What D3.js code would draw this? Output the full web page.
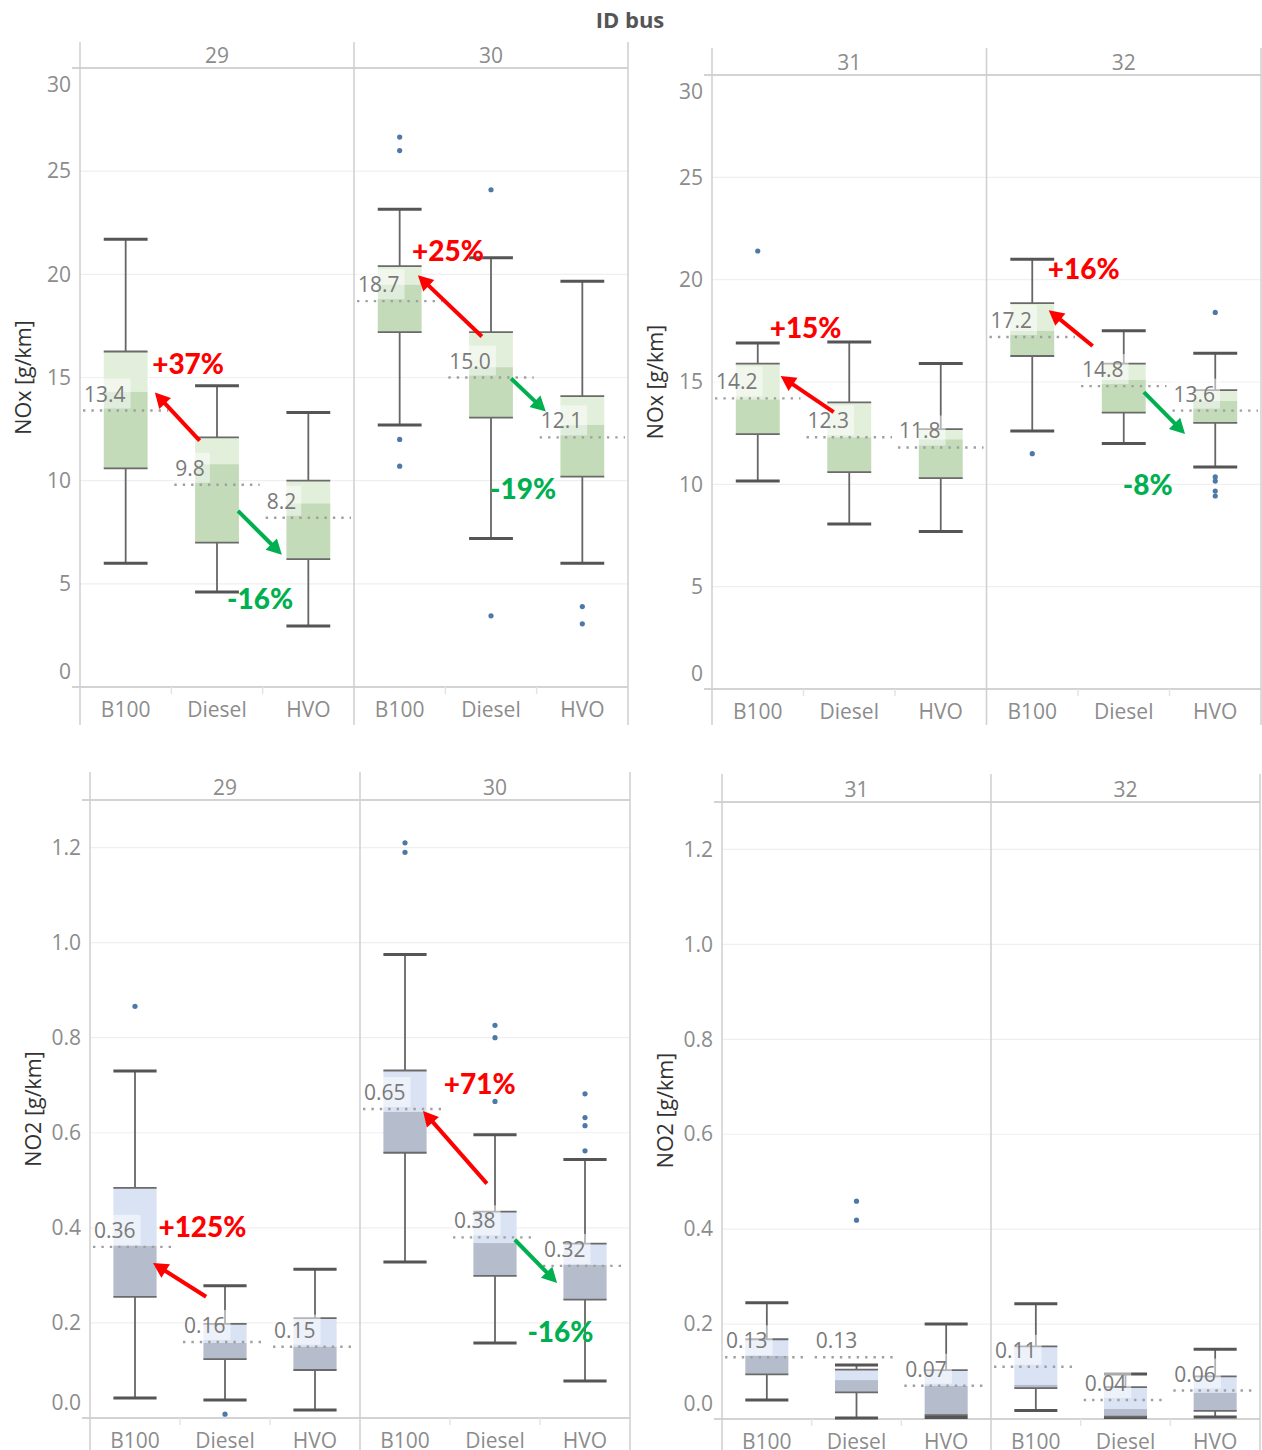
<!DOCTYPE html>
<html>
<head>
<meta charset="utf-8">
<script src="https://cdn.jsdelivr.net/npm/d3@7"></script>
<style>
  html, body { margin: 0; padding: 0; background: #fff; }
  svg { display: block; font-family: "Open Sans", sans-serif; }
</style>
</head>
<body>
<svg id="chart" width="1262" height="1450"></svg>
<script>
// ----------------------------------------------------------
// Data, rows = bus 29,30,31,32 ; cols = B100, Diesel, HVO
// ----------------------------------------------------------
const fuels = ["B100", "Diesel", "HVO"];
const buses = ["29", "30", "31", "32"];
const noxTicks = [0, 5, 10, 15, 20, 25, 30];
const no2Ticks = [0, 0.2, 0.4, 0.6, 0.8, 1.0, 1.2];

// NOx [g/km]
const noxWhiskerLow  = [[6.0, 4.6, 2.96], [12.7, 7.2, 6.0], [10.16, 8.06, 7.7], [12.6, 12.0, 10.85]];
const noxQ1          = [[10.6, 7.0, 6.2], [17.2, 13.06, 10.2], [12.45, 10.6, 10.3], [16.27, 13.5, 13.0]];
const noxMedian      = [[14.3, 10.8, 8.9], [19.5, 15.5, 12.7], [14.15, 12.3, 12.2], [17.5, 15.1, 14.07]];
const noxQ3          = [[16.26, 12.1, 10.0], [20.4, 17.2, 14.1], [15.9, 14.0, 12.7], [18.85, 15.9, 14.6]];
const noxWhiskerHigh = [[21.7, 14.6, 13.3], [23.15, 20.8, 19.66], [16.9, 16.95, 15.9], [21.0, 17.5, 16.4]];
const noxMean        = [[13.4, 9.8, 8.2], [18.7, 15.0, 12.1], [14.2, 12.3, 11.8], [17.2, 14.8, 13.6]];
const noxOutliers    = [
  [[], [], []],
  [[26.65, 26.0, 12.0, 10.7], [24.1, 3.45], [3.9, 3.06]],
  [[21.4], [], []],
  [[11.5], [], [18.4, 10.36, 10.16, 9.67, 9.43]]
];

// NO2 [g/km]
const no2WhiskerLow  = [[0.042, 0.038, 0.017], [0.328, 0.158, 0.078], [0.04, 0.002, 0.003], [0.018, 0.003, 0.004]];
const no2Q1          = [[0.255, 0.124, 0.101], [0.558, 0.299, 0.249], [0.094, 0.056, 0.008], [0.065, 0.005, 0.017]];
const no2Median      = [[0.362, 0.158, 0.15], [0.644, 0.368, 0.322], [0.133, 0.082, 0.07], [0.072, 0.021, 0.055]];
const no2Q3          = [[0.484, 0.198, 0.21], [0.731, 0.434, 0.367], [0.168, 0.104, 0.103], [0.153, 0.067, 0.09]];
const no2WhiskerHigh = [[0.73, 0.278, 0.313], [0.975, 0.596, 0.544], [0.245, 0.114, 0.2], [0.243, 0.095, 0.147]];
const no2Mean        = [[0.36, 0.16, 0.15], [0.65, 0.38, 0.32], [0.13, 0.13, 0.07], [0.11, 0.04, 0.06]];
const no2Outliers    = [
  [[0.866], [0.008], []],
  [[1.21, 1.19], [0.826, 0.80, 0.666], [0.682, 0.632, 0.615, 0.562]],
  [[], [0.459, 0.419], []],
  [[], [], []]
];

// change annotations: arrow from one box to another, in data terms
// [fuel, offset from band centre as share of band width, value]
const annotations = [
  { pol: "nox", bus: "29", text: "+37%", up: true,  from: ["Diesel", -0.19, 11.94], to: ["B100", 0.32, 14.27], label: ["B100", 0.29, 15.7] },
  { pol: "nox", bus: "29", text: "-16%", up: false, from: ["Diesel", 0.23, 8.54],   to: ["HVO", -0.29, 6.41],  label: ["Diesel", 0.11, 4.32] },
  { pol: "nox", bus: "30", text: "+25%", up: true,  from: ["Diesel", -0.10, 16.99], to: ["B100", 0.20, 19.95], label: ["B100", 0.135, 21.2] },
  { pol: "nox", bus: "30", text: "-19%", up: false, from: ["Diesel", 0.22, 14.95],  to: ["HVO", -0.40, 13.35], label: ["Diesel", -0.01, 9.66] },
  { pol: "nox", bus: "31", text: "+15%", up: true,  from: ["Diesel", -0.17, 13.53], to: ["B100", 0.25, 15.29], label: ["B100", 0.13, 17.68] },
  { pol: "nox", bus: "32", text: "+16%", up: true,  from: ["Diesel", -0.34, 16.76], to: ["B100", 0.18, 18.51], label: ["B100", 0.17, 20.57] },
  { pol: "nox", bus: "32", text: "-8%",  up: false, from: ["Diesel", 0.22, 14.51],  to: ["HVO", -0.33, 12.46], label: ["Diesel", -0.01, 10.0] },
  { pol: "no2", bus: "29", text: "+125%", up: true, from: ["Diesel", -0.21, 0.255], to: ["B100", 0.20, 0.326], label: ["B100", 0.26, 0.404] },
  { pol: "no2", bus: "30", text: "+71%", up: true,  from: ["Diesel", -0.09, 0.493], to: ["B100", 0.20, 0.646], label: ["B100", 0.43, 0.705] },
  { pol: "no2", bus: "30", text: "-16%", up: false, from: ["Diesel", 0.22, 0.375],  to: ["HVO", -0.31, 0.284], label: ["Diesel", 0.36, 0.183] }
];

// ----------------------------------------------------------
// Lookup tables built from the arrays
// ----------------------------------------------------------
const stats = {
  nox: { lo: noxWhiskerLow, q1: noxQ1, med: noxMedian, q3: noxQ3, hi: noxWhiskerHigh, mean: noxMean, out: noxOutliers },
  no2: { lo: no2WhiskerLow, q1: no2Q1, med: no2Median, q3: no2Q3, hi: no2WhiskerHigh, mean: no2Mean, out: no2Outliers }
};

const panels = [
  { pol: "nox", buses: ["29", "30"], x0: 80,  x1: 628,  vTop: 42,  header: 68,  base: 687,  vBottom: 725,  max: 30,  ticks: noxTicks,
    fmt: d3.format("d"), meanFmt: d3.format(".1f"), title: "NOx [g/km]", light: "#e2efda", dark: "#c3dbb8" },
  { pol: "nox", buses: ["31", "32"], x0: 712, x1: 1261, vTop: 48,  header: 75,  base: 689,  vBottom: 725,  max: 30,  ticks: noxTicks,
    fmt: d3.format("d"), meanFmt: d3.format(".1f"), title: "NOx [g/km]", light: "#e2efda", dark: "#c3dbb8" },
  { pol: "no2", buses: ["29", "30"], x0: 90,  x1: 630,  vTop: 772, header: 800, base: 1418, vBottom: 1450, max: 1.3, ticks: no2Ticks,
    fmt: d3.format(".1f"), meanFmt: d3.format(".2f"), title: "NO2 [g/km]", light: "#dae3f3", dark: "#b5bccb" },
  { pol: "no2", buses: ["31", "32"], x0: 722, x1: 1260, vTop: 774, header: 802, base: 1419, vBottom: 1450, max: 1.3, ticks: no2Ticks,
    fmt: d3.format(".1f"), meanFmt: d3.format(".2f"), title: "NO2 [g/km]", light: "#dae3f3", dark: "#b5bccb" }
];

const FONT = "'Open Sans', sans-serif";
const GRAY_TXT = "#8c8c8c";
const LINE = "#d3d3d3";

const svg = d3.select("#chart");
const scales = {};

// Title
svg.append("text")
  .attr("x", 630).attr("y", 19)
  .attr("text-anchor", "middle").attr("dominant-baseline", "central")
  .attr("font-family", FONT).attr("font-weight", 700).attr("font-size", 22)
  .attr("fill", "#555")
  .text("ID bus");

panels.forEach(p => {
  const g = svg.append("g");
  const y = d3.scaleLinear().domain([0, p.max]).range([p.base, p.header]);
  const facetW = (p.x1 - p.x0) / p.buses.length;

  // gridlines
  g.append("g").selectAll("line").data(p.ticks).join("line")
    .attr("x1", p.x0).attr("x2", p.x1)
    .attr("y1", d => y(d)).attr("y2", d => y(d))
    .attr("stroke", "#efefef").attr("stroke-width", 1.2);

  // y axis
  const yAxis = g.append("g")
    .attr("transform", `translate(${p.x0},0)`)
    .call(d3.axisLeft(y).tickValues(p.ticks).tickFormat(p.fmt).tickSize(0).tickPadding(9));
  yAxis.select(".domain").remove();
  yAxis.selectAll("text")
    .attr("fill", GRAY_TXT).attr("font-size", 21).attr("font-family", FONT)
    .attr("dy", d => (y(d) - p.header < 8) ? "1.1em" : (p.base - y(d) < 8) ? "-0.4em" : "0.32em");

  // y title
  g.append("text")
    .attr("transform", `translate(${p.x0 - 58},${(p.header + p.base) / 2}) rotate(-90)`)
    .attr("text-anchor", "middle").attr("dominant-baseline", "central")
    .attr("font-family", FONT).attr("font-size", 21.5).attr("fill", "#333")
    .text(p.title);

  // frame: header line, axis line, vertical dividers
  g.append("line").attr("x1", p.x0 - 8).attr("x2", p.x1).attr("y1", p.header).attr("y2", p.header)
    .attr("stroke", LINE).attr("stroke-width", 2);
  g.append("line").attr("x1", p.x0 - 8).attr("x2", p.x1).attr("y1", p.base).attr("y2", p.base)
    .attr("stroke", LINE).attr("stroke-width", 2);
  d3.range(p.buses.length + 1).forEach(i => {
    const xx = p.x0 + i * facetW;
    g.append("line").attr("x1", xx).attr("x2", xx).attr("y1", p.vTop).attr("y2", p.vBottom)
      .attr("stroke", "#cfcfcf").attr("stroke-width", 1.5);
  });

  p.buses.forEach((bus, bi) => {
    const fx0 = p.x0 + bi * facetW;
    const fx1 = fx0 + facetW;
    const x = d3.scaleBand().domain(fuels).range([fx0, fx1]);
    const bw = x.bandwidth();
    const boxW = bw * 0.48;
    scales[p.pol + bus] = { x, y };

    // facet header
    g.append("text")
      .attr("x", (fx0 + fx1) / 2).attr("y", p.header - 13)
      .attr("text-anchor", "middle").attr("dominant-baseline", "central")
      .attr("font-family", FONT).attr("font-size", 21).attr("fill", GRAY_TXT)
      .text(bus);

    // x axis
    const xAxis = g.append("g")
      .attr("transform", `translate(0,${p.base})`)
      .call(d3.axisBottom(x).tickSize(0).tickPadding(15));
    xAxis.select(".domain").remove();
    xAxis.selectAll("text").attr("fill", GRAY_TXT).attr("font-size", 21).attr("font-family", FONT);

    // small separators under the axis
    g.append("g").selectAll("line").data(fuels.slice(1)).join("line")
      .attr("x1", d => x(d)).attr("x2", d => x(d))
      .attr("y1", p.base).attr("y2", p.base + 7)
      .attr("stroke", "#e4e4e4").attr("stroke-width", 1.5);

    const k = buses.indexOf(bus);
    const st = stats[p.pol];
    const rows = fuels.map((f, fi) => ({
      fuel: f,
      lo: st.lo[k][fi], q1: st.q1[k][fi], med: st.med[k][fi], q3: st.q3[k][fi],
      hi: st.hi[k][fi], mean: st.mean[k][fi], out: st.out[k][fi]
    }));

    const cx = d => x(d.fuel) + bw / 2;
    const box = g.append("g");

    // box halves
    box.selectAll("rect.upper").data(rows).join("rect")
      .attr("class", "upper")
      .attr("x", d => cx(d) - boxW / 2).attr("width", boxW)
      .attr("y", d => y(d.q3)).attr("height", d => Math.max(0, y(d.med) - y(d.q3)))
      .attr("fill", p.light);
    box.selectAll("rect.lower").data(rows).join("rect")
      .attr("class", "lower")
      .attr("x", d => cx(d) - boxW / 2).attr("width", boxW)
      .attr("y", d => y(d.med)).attr("height", d => Math.max(0, y(d.q1) - y(d.med)))
      .attr("fill", p.dark);

    // whiskers
    rows.forEach(d => {
      const c = cx(d);
      [[d.q3, d.hi], [d.q1, d.lo]].forEach(([a, b]) => {
        box.append("line").attr("x1", c).attr("x2", c).attr("y1", y(a)).attr("y2", y(b))
          .attr("stroke", "#666").attr("stroke-width", 1.8);
      });
      [d.hi, d.lo].forEach(v => {
        box.append("line").attr("x1", c - boxW / 2).attr("x2", c + boxW / 2).attr("y1", y(v)).attr("y2", y(v))
          .attr("stroke", "#555").attr("stroke-width", 3);
      });
      [d.q3, d.q1].forEach(v => {
        box.append("line").attr("x1", c - boxW / 2).attr("x2", c + boxW / 2).attr("y1", y(v)).attr("y2", y(v))
          .attr("stroke", "#6a6a6a").attr("stroke-width", 1.8);
      });
    });

    // mean reference (dotted) line
    box.selectAll("line.mean").data(rows).join("line")
      .attr("class", "mean")
      .attr("x1", d => x(d.fuel) + 3).attr("x2", d => x(d.fuel) + bw - 3)
      .attr("y1", d => y(d.mean)).attr("y2", d => y(d.mean))
      .attr("stroke", "#a0a0a0").attr("stroke-width", 2.4)
      .attr("stroke-dasharray", "2.4 6");

    // mean labels with soft background
    rows.forEach(d => {
      const ly = y(d.mean) - 17;
      const bg = box.append("rect").attr("fill", "#fff").attr("opacity", 0.5);
      const t = box.append("text")
        .attr("x", x(d.fuel) + 4).attr("y", ly)
        .attr("dominant-baseline", "central")
        .attr("font-family", FONT).attr("font-size", 21).attr("fill", "#7a7a7a")
        .text(p.meanFmt(d.mean));
      const bb = t.node().getBBox();
      bg.attr("x", bb.x - 1).attr("width", bb.width + 6).attr("y", ly - 15).attr("height", 30);
    });

    // outliers
    rows.forEach(d => {
      box.selectAll(null).data(d.out).join("circle")
        .attr("cx", cx(d)).attr("cy", v => y(v)).attr("r", 2.6)
        .attr("fill", "#4e79a7");
    });
  });
});

// ----------------------------------------------------------
// Change annotations (arrows + percentages)
// ----------------------------------------------------------
const ann = svg.append("g");
annotations.forEach(a => {
  const { x, y } = scales[a.pol + a.bus];
  const bw = x.bandwidth();
  const pt = ([f, off, v]) => [x(f) + bw / 2 + off * bw, y(v)];
  const color = a.up ? "#ff0000" : "#00b050";
  const [sx, sy] = pt(a.from);
  const [ex, ey] = pt(a.to);
  const len = Math.hypot(ex - sx, ey - sy);
  const ux = (ex - sx) / len, uy = (ey - sy) / len;
  const headL = 15, headW = 8;
  const bx = ex - ux * headL, by = ey - uy * headL;

  ann.append("line")
    .attr("x1", sx).attr("y1", sy).attr("x2", bx + ux * 2).attr("y2", by + uy * 2)
    .attr("stroke", color).attr("stroke-width", 4);
  ann.append("path")
    .attr("d", `M${ex},${ey}L${bx - uy * headW},${by + ux * headW}L${bx + uy * headW},${by - ux * headW}Z`)
    .attr("fill", color);

  const [lx, ly] = pt(a.label);
  ann.append("text")
    .attr("x", lx).attr("y", ly)
    .attr("dominant-baseline", "central")
    .attr("font-family", "Lato, sans-serif").attr("font-weight", 900).attr("font-size", 28)
    .attr("fill", color)
    .text(a.text);
});
</script>
</body>
</html>
